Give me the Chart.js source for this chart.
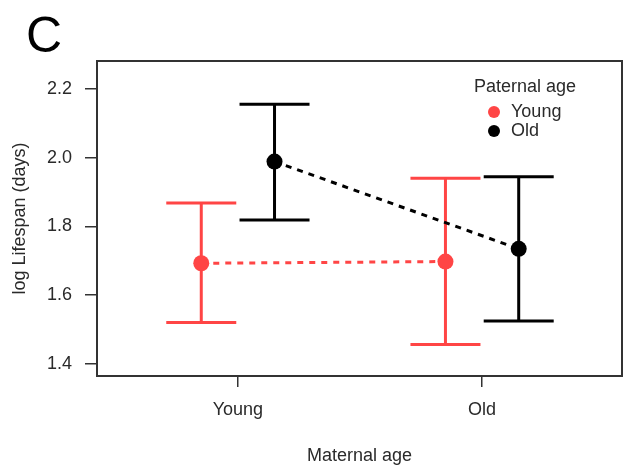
<!DOCTYPE html>
<html><head><meta charset="utf-8">
<script src="https://cdn.jsdelivr.net/npm/chart.js@4/dist/chart.umd.min.js"></script>
<style>html,body{margin:0;padding:0;background:#fff;} canvas{display:block}</style>
</head><body>
<canvas id="c" width="623" height="471"></canvas>
<script>
// ---- data ----
const panelLabel = 'C';
const categories = ['Young', 'Old'];          // maternal age (x axis)
const legendTitle = 'Paternal age';
const seriesNames = ['Young', 'Old'];         // paternal age (series)
const youngMean  = [1.693, 1.698];
const youngLower = [1.521, 1.457];
const youngUpper = [1.868, 1.940];
const oldMean    = [1.989, 1.735];
const oldLower   = [1.819, 1.525];
const oldUpper   = [2.156, 1.945];
const yTicks = [1.4, 1.6, 1.8, 2.0, 2.2];
const xTitle = 'Maternal age';
const yTitle = 'log Lifespan (days)';

// ---- styles ----
const RED = '#ff4545';
const BLACK = '#000000';
const TEXT = '#2a2a2a';
const FONT = "'Liberation Sans', Arial, sans-serif";
const dodge = 0.15;

function build(mean, lo, hi, off) {
  return categories.map((c, i) => ({ x: i + 1 + off, y: mean[i], lo: lo[i], hi: hi[i] }));
}

const datasets = [
  { label: seriesNames[0], data: build(youngMean, youngLower, youngUpper, -dodge), color: RED },
  { label: seriesNames[1], data: build(oldMean, oldLower, oldUpper, dodge), color: BLACK }
].map(d => ({
  label: d.label, data: d.data, showLine: true,
  borderColor: d.color, backgroundColor: d.color,
  pointBackgroundColor: d.color, pointBorderColor: d.color,
  pointRadius: 8, pointBorderWidth: 0, borderWidth: 3, borderDash: [6, 6],
  clip: false
}));

const errorBars = {
  id: 'errorBars',
  beforeDatasetsDraw(chart) {
    const { ctx, scales: { x, y } } = chart;
    ctx.save();
    chart.data.datasets.forEach(ds => {
      ctx.strokeStyle = ds.borderColor;
      ctx.lineWidth = 3;
      ctx.setLineDash([]);
      ds.data.forEach(p => {
        const px = x.getPixelForValue(p.x);
        const yl = y.getPixelForValue(p.lo), yh = y.getPixelForValue(p.hi);
        ctx.beginPath();
        ctx.moveTo(px, yl); ctx.lineTo(px, yh);
        ctx.moveTo(px - 35, yl); ctx.lineTo(px + 35, yl);
        ctx.moveTo(px - 35, yh); ctx.lineTo(px + 35, yh);
        ctx.stroke();
      });
    });
    ctx.restore();
  }
};

const frameAndText = {
  id: 'frameAndText',
  afterDraw(chart) {
    const { ctx, chartArea: a } = chart;
    ctx.save();
    ctx.strokeStyle = '#333';
    ctx.lineWidth = 2;
    ctx.strokeRect(a.left, a.top, a.right - a.left, a.bottom - a.top);
    // panel label
    ctx.fillStyle = '#000';
    ctx.font = '50px ' + FONT;
    ctx.textAlign = 'left';
    ctx.textBaseline = 'alphabetic';
    ctx.fillText(panelLabel, 26, 52);
    // legend
    ctx.font = '18px ' + FONT;
    ctx.fillStyle = TEXT;
    ctx.textAlign = 'center';
    ctx.textBaseline = 'middle';
    ctx.fillText(legendTitle, 525, 87);
    chart.data.datasets.forEach((ds, i) => {
      const yy = 112 + i * 19;
      ctx.fillStyle = ds.borderColor;
      ctx.beginPath(); ctx.arc(494, yy, 6, 0, Math.PI * 2); ctx.fill();
      ctx.fillStyle = TEXT;
      ctx.textAlign = 'left';
      ctx.fillText(ds.label, 511, yy);
    });
    ctx.restore();
  }
};

Chart.defaults.font.family = FONT;
Chart.defaults.font.size = 18;
Chart.defaults.color = TEXT;

new Chart(document.getElementById('c'), {
  type: 'scatter',
  data: { datasets },
  options: {
    responsive: false, animation: false,
    layout: { autoPadding: false, padding: { top: 61, right: 1, left: 0, bottom: 0 } },
    plugins: { legend: { display: false }, tooltip: { enabled: false } },
    scales: {
      x: {
        type: 'linear', min: 0.423, max: 2.573,
        afterBuildTicks: s => { s.ticks = categories.map((c, i) => ({ value: i + 1 })); },
        afterFit: s => { s.height = 95; },
        ticks: { callback: v => categories[v - 1], padding: 12, color: TEXT, autoSkip: false, maxRotation: 0 },
        grid: { drawOnChartArea: false, drawTicks: true, tickLength: 11, color: '#333', lineWidth: 1.5 },
        border: { display: false },
        title: { display: true, text: xTitle, color: TEXT, padding: { top: 0, bottom: 4 } }
      },
      y: {
        min: 1.365, max: 2.2815,
        afterBuildTicks: s => { s.ticks = yTicks.map(v => ({ value: v })); },
        afterFit: s => { s.width = 97; },
        ticks: { callback: v => v.toFixed(1), padding: 13, color: TEXT },
        grid: { drawOnChartArea: false, drawTicks: true, tickLength: 12, color: '#333', lineWidth: 1.5 },
        border: { display: false },
        title: { display: true, text: yTitle, color: TEXT, padding: { top: 9, bottom: 0 } }
      }
    }
  },
  plugins: [errorBars, frameAndText]
});
</script>
</body></html>
